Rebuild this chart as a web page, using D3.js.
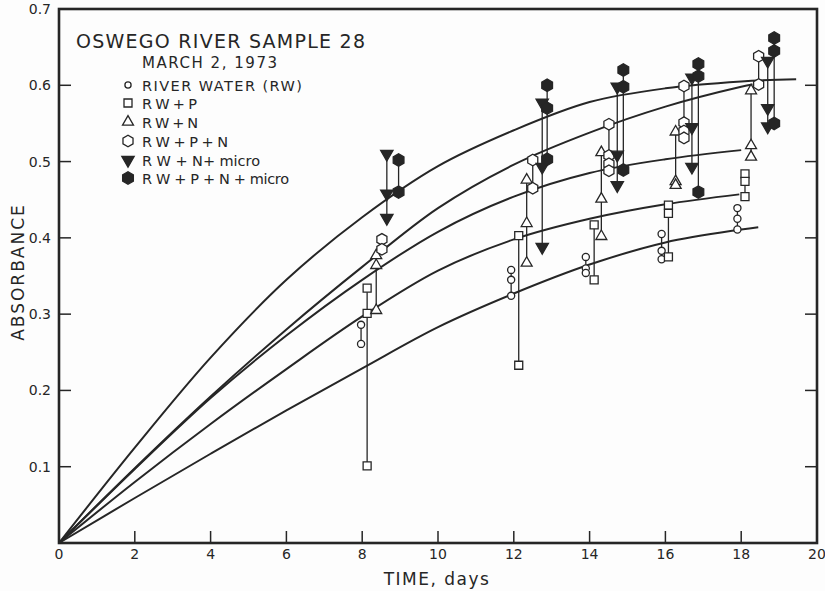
<!DOCTYPE html>
<html>
<head>
<meta charset="utf-8">
<script src="https://cdn.jsdelivr.net/npm/d3@7"></script>
<style>
  body { margin: 0; background: #fdfdfd; }
  svg { display: block; }
  text { font-family: "DejaVu Sans", sans-serif; fill: #262626; }
</style>
</head>
<body>
<svg></svg>
<script>
// Canvas
var w = 825;
var h = 591;

// Fitted curves (day, absorbance)
var curve1T = [0, 2, 4, 6, 8, 10, 12, 14, 16, 18, 19.45];
var curve1V = [0, 0.125, 0.243, 0.345, 0.427, 0.494, 0.541, 0.578, 0.596, 0.605, 0.608];
var curve2T = [0, 2, 4, 6, 8, 10, 12, 14, 16, 18, 18.3];
var curve2V = [0, 0.098, 0.192, 0.28, 0.362, 0.439, 0.496, 0.538, 0.572, 0.598, 0.601];
var curve3T = [0, 2, 4, 6, 8, 10, 12, 14, 16, 18];
var curve3V = [0, 0.097, 0.19, 0.272, 0.345, 0.408, 0.454, 0.485, 0.503, 0.515];
var curve4T = [0, 2, 4, 6, 8, 10, 12, 14, 16, 17.95];
var curve4V = [0, 0.08, 0.156, 0.228, 0.297, 0.357, 0.398, 0.425, 0.444, 0.457];
var curve5T = [0, 2, 4, 6, 8, 10, 12, 14, 16, 18, 18.45];
var curve5V = [0, 0.059, 0.117, 0.174, 0.229, 0.283, 0.327, 0.365, 0.394, 0.411, 0.414];

// Measured points: [day, [absorbances]]
var rwPts = [[7.97, [0.286, 0.261]], [11.93, [0.358, 0.345, 0.324]], [13.9, [0.375, 0.36, 0.354]],
             [15.9, [0.405, 0.383, 0.372]], [17.9, [0.439, 0.425, 0.411]]];
var rwpPts = [[8.13, [0.334, 0.301, 0.101]], [12.13, [0.403, 0.233]], [14.12, [0.417, 0.345]],
              [16.08, [0.443, 0.432, 0.375]], [18.1, [0.484, 0.474, 0.454]]];
var rwnPts = [[8.37, [0.377, 0.364, 0.305]], [12.34, [0.476, 0.419, 0.367]], [14.31, [0.512, 0.451, 0.402]],
              [16.27, [0.539, 0.474, 0.469]], [18.26, [0.593, 0.521, 0.506]]];
var rwpnPts = [[8.52, [0.398, 0.385]], [12.5, [0.502, 0.465]], [14.51, [0.549, 0.508, 0.497, 0.488]],
               [16.49, [0.599, 0.551, 0.54, 0.531]], [18.46, [0.638, 0.601]]];
var rwnMicroPts = [[8.65, [0.51, 0.458, 0.426]], [12.75, [0.577, 0.493, 0.388]], [14.73, [0.598, 0.509, 0.469]],
                   [16.7, [0.61, 0.545, 0.493]], [18.7, [0.632, 0.57, 0.546]]];
var rwpnMicroPts = [[8.96, [0.502, 0.46]], [12.88, [0.6, 0.57, 0.503]], [14.89, [0.62, 0.598, 0.489]],
                    [16.87, [0.628, 0.612, 0.46]], [18.87, [0.662, 0.645, 0.55]]];

// Legend and ticks
var legendLabels = ["RIVER WATER (RW)", "R W + P", "R W + N", "R W + P + N", "R W + N+ micro", "R W + P + N + micro"];
var xTicks = [0, 2, 4, 6, 8, 10, 12, 14, 16, 18, 20];
var yTicks = [0.1, 0.2, 0.3, 0.4, 0.5, 0.6, 0.7];

var ink = "#262626";

var svg = d3.select("svg")
    .attr("width", w)
    .attr("height", h);

var x = d3.scaleLinear().domain([0, 20]).range([59, 817]);
var y = d3.scaleLinear().domain([0, 0.7]).range([543, 9]);

// hexagon path (the open/filled "circles" of the original)
function hexPath(r) {
    var pts = d3.range(6).map(function (i) {
        var a = Math.PI / 6 + i * Math.PI / 3;
        return [r * Math.cos(a), r * Math.sin(a)];
    });
    return "M" + pts.join("L") + "Z";
}

var markers = [
    { pts: rwPts, d: d3.symbol(d3.symbolCircle, 40)(), fill: "#fff" },
    { pts: rwpPts, d: d3.symbol(d3.symbolSquare, 64)(), fill: "#fff" },
    { pts: rwnPts, d: d3.symbol(d3.symbolTriangle, 52)(), fill: "#fff" },
    { pts: rwpnPts, d: hexPath(5.8), fill: "#fff" },
    { pts: rwnMicroPts, d: d3.symbol(d3.symbolTriangle, 66)(), fill: ink, rot: 180 },
    { pts: rwpnMicroPts, d: hexPath(6.2), fill: ink }
];

// Frame
svg.append("rect")
    .attr("x", x(0)).attr("y", y(0.7))
    .attr("width", x(20) - x(0)).attr("height", y(0) - y(0.7))
    .attr("fill", "none").attr("stroke", ink).attr("stroke-width", 2.6);

// Inward ticks
var tickLen = 12;
svg.selectAll(".xtick").data(xTicks.slice(1, -1)).enter().append("line")
    .attr("x1", d => x(d)).attr("x2", d => x(d))
    .attr("y1", y(0)).attr("y2", y(0) - tickLen)
    .attr("stroke", ink).attr("stroke-width", 1.5);
svg.selectAll(".ytickl").data(yTicks.slice(0, -1)).enter().append("line")
    .attr("x1", x(0)).attr("x2", x(0) + tickLen)
    .attr("y1", d => y(d)).attr("y2", d => y(d))
    .attr("stroke", ink).attr("stroke-width", 1.5);
svg.selectAll(".ytickr").data(yTicks.slice(0, -1)).enter().append("line")
    .attr("x1", x(20)).attr("x2", x(20) - tickLen)
    .attr("y1", d => y(d)).attr("y2", d => y(d))
    .attr("stroke", ink).attr("stroke-width", 1.5);

// Tick labels
svg.selectAll(".xlab").data(xTicks).enter().append("text")
    .attr("x", d => x(d)).attr("y", 559)
    .attr("text-anchor", "middle")
    .style("font-size", "14px")
    .text(d => d);
svg.selectAll(".ylab").data(yTicks).enter().append("text")
    .attr("x", 51).attr("y", d => y(d) + 5)
    .attr("text-anchor", "end")
    .style("font-size", "14px")
    .text(d => d.toFixed(1));

// Axis titles
svg.append("text")
    .attr("x", 437).attr("y", 585)
    .attr("text-anchor", "middle")
    .style("font-size", "17px").style("letter-spacing", "1.5px")
    .text("TIME, days");
svg.append("text")
    .attr("transform", "translate(24,272) rotate(-90)")
    .attr("text-anchor", "middle")
    .style("font-size", "17px").style("letter-spacing", "2px")
    .text("ABSORBANCE");

// Curves
var line = d3.line()
    .x(d => x(d[0])).y(d => y(d[1]))
    .curve(d3.curveCatmullRom.alpha(0.5));
[[curve1T, curve1V], [curve2T, curve2V], [curve3T, curve3V], [curve4T, curve4V], [curve5T, curve5V]]
    .forEach(function (c) {
        svg.append("path")
            .datum(d3.zip(c[0], c[1]))
            .attr("d", line)
            .attr("fill", "none").attr("stroke", ink).attr("stroke-width", 2);
    });

// Connecting stems and markers
markers.forEach(function (m) {
    svg.append("g").selectAll("line").data(m.pts).enter().append("line")
        .attr("x1", d => x(d[0])).attr("x2", d => x(d[0]))
        .attr("y1", d => y(d3.max(d[1]))).attr("y2", d => y(d3.min(d[1])))
        .attr("stroke", ink).attr("stroke-width", 1.3);
});
markers.forEach(function (m) {
    var flat = [];
    m.pts.forEach(function (p) { p[1].forEach(function (v) { flat.push([p[0], v]); }); });
    svg.append("g").selectAll("path").data(flat).enter().append("path")
        .attr("d", m.d)
        .attr("transform", d => "translate(" + x(d[0]) + "," + y(d[1]) + ")" + (m.rot ? " rotate(" + m.rot + ")" : ""))
        .attr("fill", m.fill).attr("stroke", ink).attr("stroke-width", 1.3);
});

// Title block
svg.append("text")
    .attr("x", 76).attr("y", 48)
    .attr("textLength", 289).attr("lengthAdjust", "spacing")
    .style("font-size", "19px")
    .text("OSWEGO RIVER SAMPLE 28");
svg.append("text")
    .attr("x", 142).attr("y", 68)
    .attr("textLength", 135).attr("lengthAdjust", "spacing")
    .style("font-size", "15px")
    .text("MARCH 2, 1973");

// Legend
var legendRowY = [85, 103, 122, 141, 160, 178];
var legendWidths = [160, 55, 56, 86, 118, 147];
var legend = svg.append("g");
legendLabels.forEach(function (lab, i) {
    var m = markers[i];
    legend.append("path")
        .attr("d", i === 0 ? d3.symbol(d3.symbolCircle, 30)() : m.d)
        .attr("transform", "translate(128," + legendRowY[i] + ")" + (m.rot ? " rotate(" + m.rot + ")" : ""))
        .attr("fill", m.fill).attr("stroke", ink).attr("stroke-width", 1.3);
    legend.append("text")
        .attr("x", 142).attr("y", legendRowY[i] + 5.5)
        .attr("textLength", legendWidths[i]).attr("lengthAdjust", "spacing")
        .style("font-size", "14.5px")
        .text(lab);
});
</script>
</body>
</html>
